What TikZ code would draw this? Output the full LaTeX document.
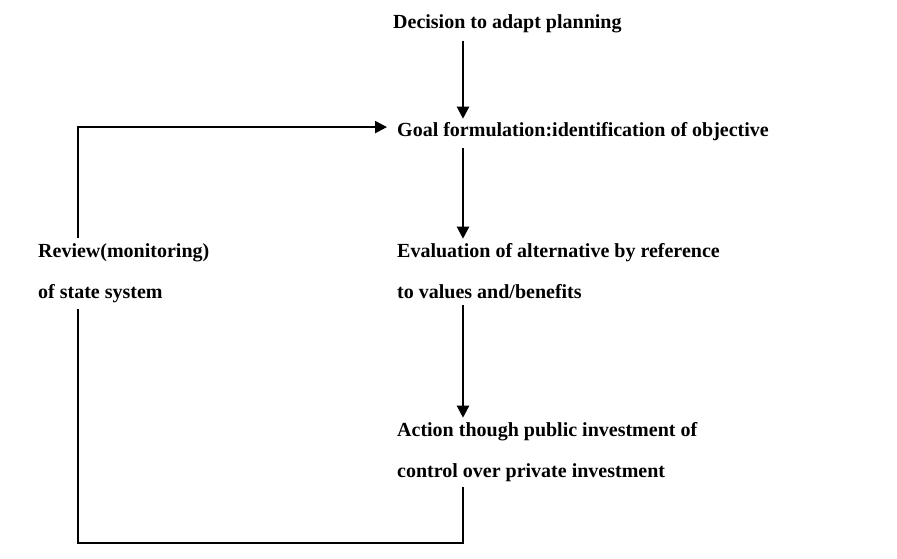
\documentclass[tikz,border=0pt]{standalone}
\usepackage{fontspec}
\setmainfont{Liberation Serif}
\usetikzlibrary{arrows.meta}

\tikzset{
	stage/.style={draw=none,inner sep=0pt,anchor=base west,align=left,
		font=\fontsize{20}{41}\selectfont\bfseries},
	flow/.style={-{Triangle[width=12pt,length=12pt]},line width=2.2pt},
	loop/.style={line width=2.2pt}
}

\begin{document}
\begin{tikzpicture}[x=1pt,y=-1pt]
	\useasboundingbox (0,0) rectangle (897,559);
	
	\coordinate (ax) at (463,0);
	\coordinate (lx) at (78,0);
	\coordinate (bot) at (0,543);
	
	% base anchor sits on the last line of a node
	\node (dec)[stage] at (393,29) {Decision to adapt planning};
	\node (goal)[stage] at (397,137) {Goal formulation:identification of objective};
	\node (eval)[stage] at (397,298) {Evaluation of alternative by reference\\to values and/benefits};
	\node (review)[stage] at (38,298) {Review(monitoring)\\of state system};
	\node (act)[stage] at (397,477) {Action though public investment of\\control over private investment};
	
	\draw[flow,shorten <=7pt,shorten >=4pt] 
	(dec.south -| ax)--(goal.north -| ax);
	
	\draw[flow,shorten <=7pt,shorten >=4pt] 
	(goal.south -| ax)--(eval.north -| ax);
	
	\draw[flow,shorten <=7pt,shorten >=4pt] 
	(eval.south -| ax)--(act.north -| ax);
	
	% loop back to the goal
	\draw[flow,shorten <=5pt,shorten >=10pt] 
	(review.north -| lx) |- ([yshift=5pt]goal.west);
	
	\draw[loop,shorten <=6pt] 
	(act.south -| ax) -- (bot -| ax) -- (bot -| lx) -- ([yshift=-6pt]review.south -| lx);
\end{tikzpicture}
\end{document}
